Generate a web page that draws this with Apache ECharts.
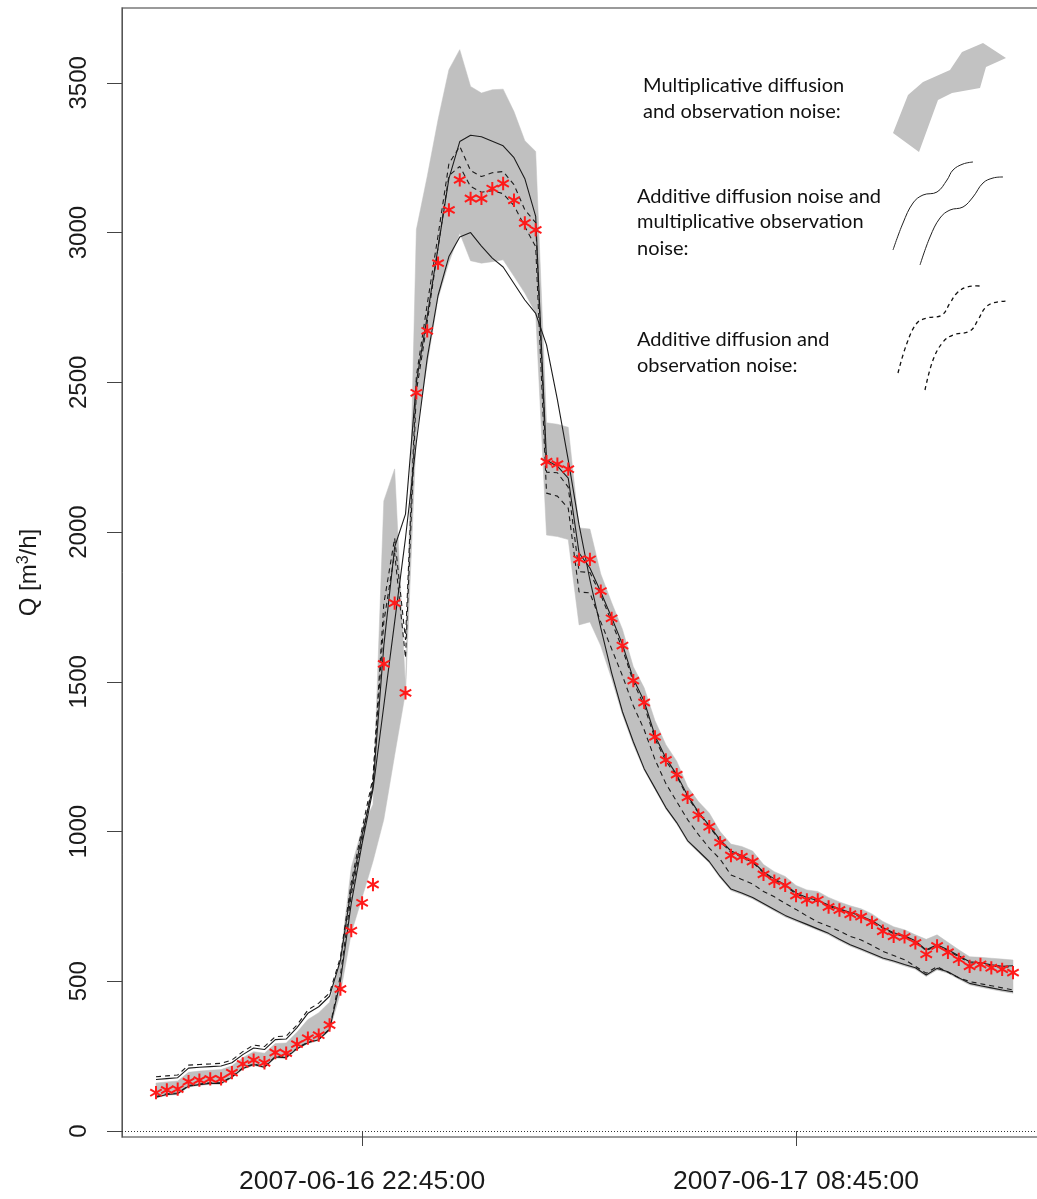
<!DOCTYPE html>
<html>
<head>
<meta charset="utf-8">
<script src="https://cdn.jsdelivr.net/npm/echarts@6/dist/echarts.min.js"></script>
<style>html,body{margin:0;padding:0;background:#fff}#c{width:1037px;height:1199px}</style>
</head>
<body>
<div id="c"></div>
<script>
// ---- data (15-minute steps starting 2007-06-16 18:00) ----
const startTime = [2007, 5, 16, 18, 0];   // year, month(0-based), day, hour, minute
const stepMinutes = 15;
const obs = [128,137,140,165,170,174,174,195,224,237,
  228,262,260,290,310,320,354,474,669,762,
  823,1560,1763,1463,2465,2672,2898,3076,3176,3114,
  3114,3147,3164,3108,3032,3009,2235,2227,2210,1909,
  1909,1803,1712,1621,1504,1431,1316,1239,1190,1114,
  1055,1016,963,920,916,900,857,834,820,786,
  772,772,748,738,724,716,697,667,650,648,
  628,590,618,597,573,550,556,545,540,529];
const bandHigh = [160,164,167,196,200,203,205,218,245,265,
  260,292,294,330,372,395,430,575,880,1010,
  1090,2104,2211,1480,3010,3187,3377,3544,3611,3488,
  3466,3477,3479,3404,3307,3271,2365,2360,2350,2014,
  2010,1860,1765,1675,1550,1480,1370,1290,1235,1150,
  1100,1062,1000,958,950,935,890,866,850,820,
  805,800,780,765,752,742,725,700,682,672,
  655,640,655,630,605,582,580,577,574,571];
const bandLow = [110,119,122,147,152,156,156,177,206,219,
  210,244,242,272,292,302,336,460,660,780,
  900,1040,1255,1465,2330,2560,2780,2900,2998,2906,
  2898,2903,2909,2854,2798,2731,1990,1985,1975,1690,
  1700,1620,1510,1390,1290,1205,1140,1075,1025,965,
  930,895,845,803,790,775,755,735,715,700,
  685,670,655,635,617,603,588,573,563,551,
  540,516,538,527,507,488,480,473,466,460];
const solidA = [172,175,178,210,213,215,217,228,255,277,
  272,305,307,345,393,415,450,570,810,990,
  1150,1620,1950,2060,2500,2720,2950,3180,3304,3325,
  3320,3305,3290,3250,3180,3054,2240,2220,2180,1930,
  1880,1800,1715,1625,1510,1435,1320,1245,1190,1120,
  1065,1020,972,935,920,900,865,842,822,795,
  780,770,755,742,730,718,702,680,662,652,
  635,605,622,605,585,565,562,555,550,552];
const solidB = [113,122,125,150,155,159,159,180,209,222,
  213,247,245,275,295,305,339,500,760,960,
  1140,1420,1700,1980,2300,2580,2790,2920,2985,3000,
  2955,2915,2885,2830,2775,2730,2625,2442,2241,2024,
  1840,1680,1530,1400,1300,1210,1145,1080,1030,970,
  935,900,850,808,795,780,760,740,720,705,
  690,675,660,640,622,608,593,578,568,556,
  545,521,543,532,512,493,485,478,471,465];
const dashA = [181,184,187,220,222,224,226,237,265,287,
  282,315,317,354,404,427,461,580,830,1010,
  1180,1760,1980,1640,2520,2760,2990,3230,3288,3207,
  3187,3200,3204,3160,3076,3033,2200,2198,2150,1868,
  1865,1790,1700,1610,1500,1420,1310,1235,1185,1115,
  1062,1017,968,930,915,897,862,838,818,792,
  776,766,751,739,727,715,699,677,659,649,
  632,602,619,602,582,562,559,552,547,549];
const dashB = [115,124,127,152,157,161,161,182,211,224,
  215,249,247,277,297,307,341,520,790,970,
  1170,1700,1930,1580,2470,2700,2950,3190,3221,3154,
  3135,3140,3130,3090,3020,2953,2130,2120,2080,1800,
  1797,1700,1610,1520,1420,1340,1240,1160,1100,1040,
  990,945,908,855,840,825,800,782,760,740,
  718,698,684,668,650,638,620,600,586,572,
  550,527,549,530,512,499,492,485,478,471];
const yTicks = [0,500,1000,1500,2000,2500,3000,3500];
const xTickTimes = [[2007,5,16,22,45],[2007,5,17,8,45]];
const xRange = [[2007,5,16,17,13],[2007,5,17,14,32]];
const legendTexts = [
  ["Multiplicative diffusion", 643, 86],
  ["and observation noise:", 643, 112],
  ["Additive diffusion noise and", 637, 197],
  ["multiplicative observation", 637, 222],
  ["noise:", 637, 249],
  ["Additive diffusion and", 637, 340],
  ["observation noise:", 637, 366]
];

// ---- build ----
const ts = a => new Date(a[0], a[1], a[2], a[3], a[4]).getTime();
const t0 = ts(startTime);
const times = obs.map((_, i) => t0 + i * stepMinutes * 60000);
const pair = arr => arr.map((v, i) => [times[i], v]);
const pad = n => String(n).padStart(2, '0');
const fmt = v => { const d = new Date(v); return d.getFullYear() + '-' + pad(d.getMonth()+1) + '-' + pad(d.getDate()) + ' ' + pad(d.getHours()) + ':' + pad(d.getMinutes()) + ':' + pad(d.getSeconds()); };

const starPath = 'path://M-1.5,10L1.5,10L1.5,-10L-1.5,-10Z M7.91,6.30L9.41,3.70L-7.91,-6.30L-9.41,-3.70Z M-9.41,3.70L-7.91,6.30L9.41,-3.70L7.91,-6.30Z';

const lineCol = '#1c1c1c';
function lineSeries(name, data, dashed) {
  return { name, type: 'line', data: pair(data), symbol: 'none', smooth: false, z: 3,
    lineStyle: { color: lineCol, width: 1.1, type: dashed ? [5, 4] : 'solid' }, silent: true };
}

const chart = echarts.init(document.getElementById('c'), null, { renderer: 'canvas' });
chart.setOption({
  animation: false,
  backgroundColor: '#fff',
  grid: { left: 122, top: 8, width: 925, height: 1129, outerBoundsMode: 'none', containLabel: false, show: true, borderColor: '#7a7a7a', borderWidth: 1.5, backgroundColor: 'transparent' },
  xAxis: {
    type: 'value', min: ts(xRange[0]), max: ts(xRange[1]),
    axisLine: { show: false },
    axisTick: { show: true, length: 15, lineStyle: { color: '#444', width: 1 }, customValues: xTickTimes.map(ts) },
    axisLabel: { customValues: xTickTimes.map(ts), formatter: v => fmt(v), fontSize: 26.5, color: '#1a1a1a', fontFamily: 'Liberation Sans, Arial, sans-serif', margin: 31 },
    splitLine: { show: false }
  },
  yAxis: {
    type: 'value', min: -20, max: 3750,
    axisLine: { show: true, lineStyle: { color: '#555', width: 1 } },
    axisTick: { show: true, length: 15, lineStyle: { color: '#444', width: 1 }, customValues: yTicks },
    axisLabel: { customValues: yTicks, formatter: v => String(v), rotate: 90, fontSize: 24, color: '#1a1a1a', fontFamily: 'Liberation Sans, Arial, sans-serif', margin: 31 },
    splitLine: { show: false },
    name: '{a|Q [m}{s|3}{a|/h]}', nameLocation: 'middle', nameGap: 80,
    nameTextStyle: { rich: {
      a: { fontSize: 24, fontFamily: 'Liberation Sans, Arial, sans-serif', color: '#1a1a1a' },
      s: { fontSize: 16, fontFamily: 'Liberation Sans, Arial, sans-serif', color: '#1a1a1a', verticalAlign: 'top', padding: [0,0,10,0] }
    } }
  },
  series: [
    { name: 'band', type: 'custom', clip: true, silent: true, z: 1,
      data: [[times[0], bandLow[0]]],
      renderItem: (params, api) => {
        const pts = [];
        for (let i = 0; i < times.length; i++) pts.push(api.coord([times[i], bandHigh[i]]));
        for (let i = times.length - 1; i >= 0; i--) pts.push(api.coord([times[i], bandLow[i]]));
        return { type: 'polygon', shape: { points: pts }, style: { fill: '#c0c0c0', stroke: '#c0c0c0', lineWidth: 0.5 } };
      } },
    lineSeries('solidA', solidA, false),
    lineSeries('solidB', solidB, false),
    lineSeries('dashA', dashA, true),
    lineSeries('dashB', dashB, true),
    { name: 'obs', type: 'scatter', data: pair(obs), symbol: starPath, symbolSize: [12.5, 13.3], z: 5,
      itemStyle: { color: '#ff1a1a', opacity: 1 }, silent: true,
      markLine: { silent: true, symbol: 'none', label: { show: false }, lineStyle: { type: [1, 2], color: '#333', width: 1 }, data: [{ yAxis: 0 }] } }
  ],
  graphic: [
    ...legendTexts.map(t => ({ type: 'text', x: t[1], y: t[2], style: { text: t[0], font: '20px Lato, "Open Sans", sans-serif', fill: '#111', verticalAlign: 'middle', align: 'left' } })),
    { type: 'polygon', shape: { points: [[893,133],[908,95],[923,82],[950,70],[962,52],[983,43],[1006,58],[986,67],[980,88],[952,93],[938,100],[919,152]] }, style: { fill: '#c2c2c2' } },
    { type: 'polyline', shape: { smooth: 0.4, points: [[893,250],[903,223],[913,203],[923,195],[937,192],[947,180],[953,170],[963,164],[973,162]] }, style: { stroke: '#222', lineWidth: 1, fill: null } },
    { type: 'polyline', shape: { smooth: 0.4, points: [[920,265],[930,237],[940,218],[950,210],[963,207],[973,197],[983,183],[993,178],[1003,177]] }, style: { stroke: '#222', lineWidth: 1, fill: null } },
    { type: 'polyline', shape: { smooth: 0.4, points: [[898,373],[907,343],[917,323],[927,318],[942,315],[950,303],[957,293],[967,287],[980,286]] }, style: { stroke: '#111', lineWidth: 1.3, lineDash: [4, 3.5], fill: null } },
    { type: 'polyline', shape: { smooth: 0.4, points: [[925,390],[933,360],[943,342],[953,335],[970,331],[978,320],[985,308],[993,303],[1007,301]] }, style: { stroke: '#111', lineWidth: 1.3, lineDash: [4, 3.5], fill: null } }
  ]
});
</script>
</body>
</html>
